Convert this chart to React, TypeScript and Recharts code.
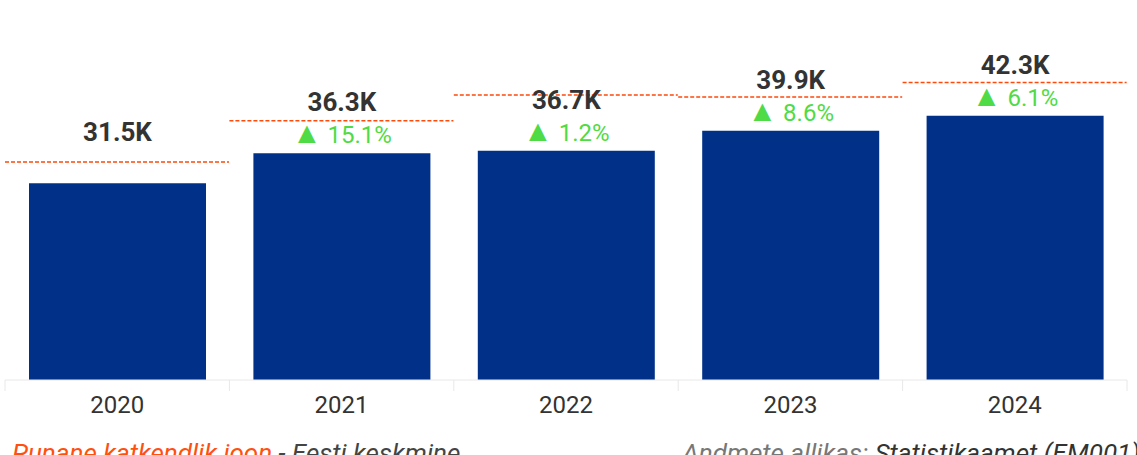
import { BarChart, Bar, XAxis, YAxis, LabelList } from "recharts";

const years = ["2020", "2021", "2022", "2023", "2024"];
const wages = [31.5, 36.3, 36.7, 39.9, 42.3];
const estoniaAvg = [34.9, 41.5, 45.6, 45.3, 47.6];
const growth = [null, 15.1, 1.2, 8.6, 6.1];

const data = years.map((year, i) => ({
    year,
    wage: wages[i],
    avg: estoniaAvg[i],
    growth: growth[i],
}));

const FONT = "Roboto, 'Noto Sans', sans-serif";

function YearTick(props: any) {
    const { x, y, payload, index } = props;
    const half = payload?.offset ?? 112;
    return (
        <g>
            <line x1={x - half} x2={x - half} y1={y - 8} y2={y + 3} stroke="#e8e8e8" />
            {index === years.length - 1 && (
                <line x1={x + half} x2={x + half} y1={y - 8} y2={y + 3} stroke="#e8e8e8" />
            )}
            <text x={x} y={y} dy={25} textAnchor="middle" fill="#333" fontSize={24} fontFamily={FONT}>
                {payload.value}
            </text>
        </g>
    );
}

function ValueLabel(props: any) {
    const { x, y, width, value, index } = props;
    const cx = x + width / 2;
    const g = growth[index];
    return (
        <g fontFamily={FONT}>
            <text x={cx} y={y - 42} textAnchor="middle" fill="#333" fontSize={26} fontWeight={700}>
                {`${Number(value).toFixed(1)}K`}
            </text>
            {g != null && (
                <text x={cx} y={y - 10} textAnchor="middle" fill="#4fdb45" fontSize={24}>
                    <tspan fontSize={30}>▲</tspan>
                    {` ${g.toFixed(1)}%`}
                </text>
            )}
        </g>
    );
}

function AvgLine(props: any) {
    const { x, y, width } = props;
    return (
        <line
            x1={x}
            x2={x + width}
            y1={y}
            y2={y}
            stroke="#ff4a0a"
            strokeWidth={1.5}
            strokeDasharray="4 2"
        />
    );
}

export default function App() {
    return (
        <div
            style={{
                position: "absolute",
                left: 0,
                top: 0,
                width: 1137,
                height: 455,
                overflow: "hidden",
                background: "#fff",
                fontFamily: FONT,
            }}
        >
            <BarChart
                width={1137}
                height={430}
                data={data}
                margin={{ top: 5, right: 10, left: 5, bottom: 10 }}
                barCategoryGap={0}
            >
                <XAxis
                    dataKey="year"
                    height={40}
                    axisLine={{ stroke: "#e8e8e8" }}
                    tickLine={false}
                    tick={<YearTick />}
                    interval={0}
                />
                <XAxis dataKey="year" xAxisId="avg" hide />
                <YAxis hide domain={[0, 60]} />
                <Bar dataKey="wage" fill="#003087" barSize={177} isAnimationActive={false}>
                    <LabelList dataKey="wage" content={<ValueLabel />} />
                </Bar>
                <Bar
                    dataKey="avg"
                    xAxisId="avg"
                    fill="none"
                    shape={<AvgLine />}
                    isAnimationActive={false}
                />
            </BarChart>
            <div
                style={{
                    position: "absolute",
                    left: 12,
                    top: 440,
                    fontSize: 26,
                    lineHeight: "26px",
                    fontStyle: "italic",
                    whiteSpace: "nowrap",
                }}
            >
                <span style={{ color: "#ff5010" }}>Punane katkendlik joon</span>
                <span style={{ color: "#444" }}> - Eesti keskmine</span>
            </div>
            <div
                style={{
                    position: "absolute",
                    right: -3,
                    top: 440,
                    fontSize: 26,
                    lineHeight: "26px",
                    fontStyle: "italic",
                    whiteSpace: "nowrap",
                }}
            >
                <span style={{ color: "#777" }}>Andmete allikas: </span>
                <span style={{ color: "#333" }}>Statistikaamet (EM001)</span>
            </div>
        </div>
    );
}
